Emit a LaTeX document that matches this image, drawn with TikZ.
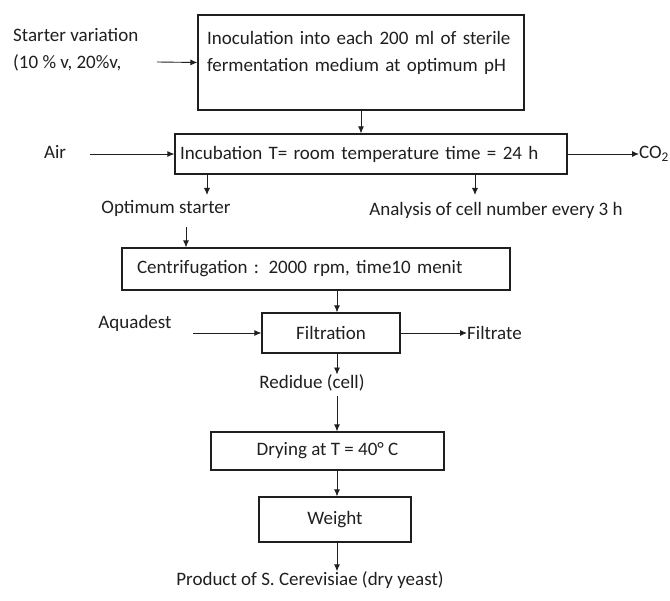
\documentclass[tikz,border=0pt]{standalone}
\usepackage{fontspec}
\setmainfont{Carlito}
\usetikzlibrary{arrows.meta,calc}
\definecolor{InkClr}{rgb}{0.12,0.12,0.12}

\begin{document}
\begin{tikzpicture}[x=1pt,y=-1pt,
  font=\fontsize{19}{27}\selectfont,text=InkClr,
  box/.style={draw=InkClr,line width=1.2pt,inner sep=0pt},
  lbl/.style={inner sep=0pt},
  arr/.style={draw=InkClr,line width=.9pt,-{Latex[length=7pt,width=6pt]}}]
\useasboundingbox (0,0) rectangle (670,601);
\coordinate (axis) at (337,0);

\node[lbl,anchor=west] (starter) at (13,35) {Starter variation};
\node[lbl,anchor=west] (ratio) at (13,63) {(10 \% v, 20\%v,};
\node[box,text width=308,minimum width=326,minimum height=95,align=left] (inoc) at (361,62.5)
  {Inoculation into each 200 ml of sterile\\fermentation medium at optimum pH\\[-12pt]\strut};
\coordinate (inocin) at (157,62);
\draw[arr] (inocin) -- (inoc.west);

\node[box,text width=382,inner xsep=5pt,minimum height=40,align=left] (incub) at (371,154)
  {Incubation T= room temperature time = 24 h};
\draw[arr] (inoc.south) -- (inoc.south |- incub.north);
\node[lbl] (air) at (55,152) {Air};
\coordinate (airin) at (90,154);
\draw[arr] (airin) -- (incub.west);
\node[lbl,anchor=west] (co2) at (639,154) {CO\textsubscript{2}};
\draw[arr] (incub.east) -- (co2.west);

\coordinate (optout) at (207,195);
\coordinate (anaout) at (475,195);
\draw[arr] (incub.south -| optout) -- (optout);
\draw[arr] (incub.south -| anaout) -- (anaout);
\node[lbl] (optimum) at (166,208) {Optimum starter};
\node[lbl] (analysis) at (496,210) {Analysis of cell number every 3 h};

\node[box,text width=358,inner xsep=15pt,minimum height=42,align=left] (centri) at (316,269)
  {Centrifugation : 2000 rpm, time10 menit};
\coordinate (optin) at (186,227);
\draw[arr] (optin) -- (optin |- centri.north);

\node[box,minimum width=138,minimum height=40] (filt) at (331,333) {Filtration};
\draw[arr] (centri.south -| axis) -- (filt.north -| axis);
\node[lbl] (aquadest) at (135,323) {Aquadest};
\coordinate (aquain) at (193,333);
\draw[arr] (aquain) -- (filt.west);
\node[lbl,anchor=west] (filtrate) at (467,333) {Filtrate};
\draw[arr] (filt.east) -- (filtrate.west);

\node[lbl] (residue) at (312,383) {Redidue (cell)};
\draw[arr] (filt.south -| axis) -- (residue.north -| axis);
\node[box,minimum width=233,minimum height=38] (dry) at (327.5,451) {Drying at T = 40° C};
\draw[arr] ([yshift=-5]residue.south -| axis) -- (dry.north -| axis);
\node[box,minimum width=152,minimum height=45] (weight) at (335,519.5) {Weight};
\draw[arr] (dry.south -| axis) -- (weight.north -| axis);
\node[lbl] (product) at (310,580) {Product of S. Cerevisiae (dry yeast)};
\draw[arr] (weight.south -| axis) -- (product.north -| axis);
\end{tikzpicture}
\end{document}
